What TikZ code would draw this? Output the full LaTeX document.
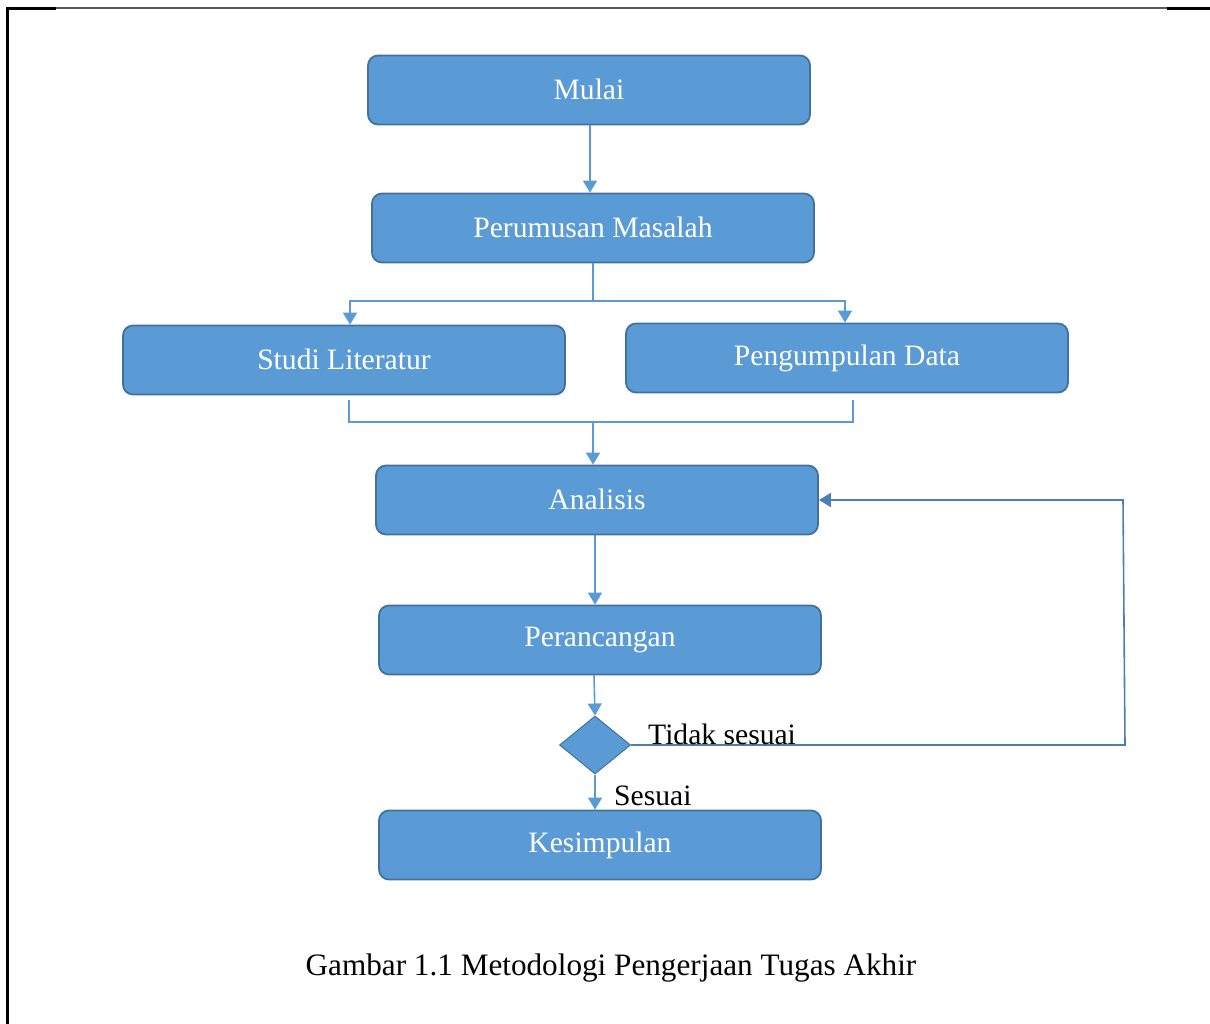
\documentclass[tikz,border=0pt]{standalone}
\usepackage{fontspec}
\setmainfont{Liberation Serif}
\usetikzlibrary{arrows.meta,shapes.geometric}
\definecolor{boxfill}{HTML}{5B9BD5}
\definecolor{boxline}{HTML}{41719C}
\definecolor{conn}{HTML}{5B9BD5}
\definecolor{fb}{HTML}{4A7EB5}
\tikzset{
  stepbox/.style={draw=boxline, line width=1.8pt, fill=boxfill, rounded corners=10pt,
    minimum width=442pt, minimum height=69pt, inner sep=0pt, text=white,
    font=\fontsize{29.6}{31}\selectfont},
  dec/.style={draw=boxline, line width=1pt, fill=boxfill, diamond, aspect=1.22,
    minimum width=71pt, minimum height=58pt, inner sep=0pt},
  conn/.style={draw=conn, line width=1.6pt},
  arr/.style={conn, -{Triangle[width=14pt,length=12pt]}},
  fbline/.style={draw=fb, line width=1.6pt},
  lbl/.style={font=\fontsize{29.6}{31}\selectfont, inner sep=0pt}
}
\begin{document}
\begin{tikzpicture}[x=1pt,y=-1pt]
\useasboundingbox (0,0) rectangle (1210,1024);
% page frame
\draw[black, line width=3pt] (7,1024) -- (7,9) -- (56,9);
\draw[black!65, line width=1.2pt] (56,8) -- (1167,8);
\draw[black, line width=3pt] (1167,9) -- (1210,9);
% nodes
\node[stepbox, text depth=0pt] (mulai) at (589,90) {\raisebox{2pt}{Mulai}};
\node[stepbox] (rumus) at (593,228) {\raisebox{2pt}{Perumusan Masalah}};
\node[stepbox] (studi) at (344,360) {\raisebox{2pt}{Studi Literatur}};
\node[stepbox] (kumpul) at (847,358) {\raisebox{2pt}{Pengumpulan Data}};
\node[stepbox] (anal) at (597,500) {\raisebox{2pt}{Analisis}};
\node[stepbox] (ranc) at (600,640) {\raisebox{2pt}{Perancangan}};
\node[dec] (cek) at (595,745) {};
\node[stepbox] (simp) at (600,845) {\raisebox{2pt}{Kesimpulan}};
% helper coordinates
\coordinate (split) at (593,301);
\coordinate (joinL) at (349,400);
\coordinate (joinR) at (853,400);
\coordinate (join) at (593,422);
\coordinate (fbA) at (1125,745);
\coordinate (fbB) at (1123,500);
% connectors
\draw[arr] (mulai.south -| 590,0) -- (rumus.north -| 590,0);
\draw[conn] (rumus.south -| split) -- (split);
\draw[arr] (split) -| (studi.north -| 350,0);
\draw[arr] (split) -| (kumpul.north -| 845,0);
\draw[conn] (joinL) |- (join) -| (joinR);
\draw[arr] (join) -- (anal.north -| join);
\draw[arr] (anal.south -| 595,0) -- (ranc.north -| 595,0);
\draw[arr] (ranc.south -| 594,0) -- (cek.north);
\draw[arr] (cek.south) -- (simp.north -| cek.south);
\draw[fbline, -{Triangle[width=14pt,length=12pt]}] (cek.east) -- (fbA) -- (fbB) -- (anal.east);
% labels
\node[lbl, anchor=base west] (tidak) at (648,744) {Tidak sesuai};
\node[lbl, anchor=base west] (sesuai) at (614,805) {Sesuai};
\node[font=\fontsize{31.2}{33}\selectfont, inner sep=0pt, anchor=base] (cap) at (611,975) {Gambar 1.1 Metodologi Pengerjaan Tugas Akhir};
\end{tikzpicture}
\end{document}
